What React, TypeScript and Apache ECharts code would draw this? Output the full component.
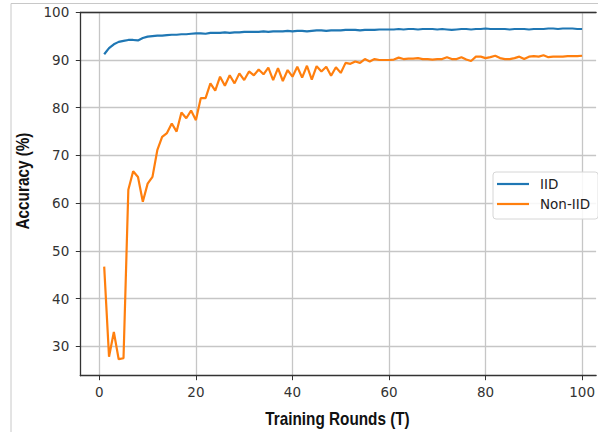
import React, { useEffect, useRef } from "react";
import * as echarts from "echarts";

const rounds: number[] = Array.from({ length: 100 }, (_, i) => i + 1);

const iidAcc: number[] = [
  91.2, 92.5, 93.3, 93.8, 94.0, 94.2, 94.2, 94.1, 94.6, 94.9,
  95.0, 95.1, 95.1, 95.2, 95.3, 95.3, 95.4, 95.4, 95.5, 95.6,
  95.6, 95.5, 95.7, 95.7, 95.7, 95.8, 95.7, 95.8, 95.8, 95.9,
  95.9, 95.9, 95.9, 96.0, 95.9, 96.0, 96.0, 96.0, 96.1, 96.0,
  96.1, 96.1, 96.0, 96.1, 96.2, 96.2, 96.1, 96.2, 96.2, 96.2,
  96.3, 96.3, 96.3, 96.2, 96.3, 96.3, 96.3, 96.4, 96.4, 96.4,
  96.4, 96.5, 96.4, 96.5, 96.5, 96.4, 96.5, 96.5, 96.5, 96.4,
  96.5, 96.4, 96.3, 96.4, 96.5, 96.5, 96.4, 96.5, 96.5, 96.6,
  96.5, 96.5, 96.5, 96.5, 96.4, 96.5, 96.5, 96.5, 96.4, 96.5,
  96.5, 96.5, 96.6, 96.6, 96.5, 96.6, 96.6, 96.6, 96.5, 96.5,
];

const nonIidAcc: number[] = [
  46.7, 27.8, 33.0, 27.3, 27.5, 62.8, 66.7, 65.5, 60.3, 64.1,
  65.5, 71.1, 73.9, 74.7, 76.7, 75.0, 79.0, 77.8, 79.4, 77.4,
  82.0, 82.0, 85.1, 83.6, 86.5, 84.6, 86.8, 85.1, 87.2, 85.8,
  87.6, 86.8, 88.0, 87.0, 88.4, 85.8, 88.3, 85.6, 87.9, 86.5,
  88.6, 86.3, 88.8, 85.9, 88.7, 87.6, 88.6, 86.7, 88.5, 87.3,
  89.4, 89.2, 89.7, 89.4, 90.2, 89.7, 90.2, 90.0, 90.0, 90.0,
  90.1, 90.5, 90.2, 90.3, 90.3, 90.4, 90.2, 90.2, 90.1, 90.2,
  90.2, 90.6, 90.2, 90.2, 90.6, 90.1, 89.8, 90.7, 90.7, 90.4,
  90.6, 90.9, 90.4, 90.2, 90.2, 90.4, 90.7, 90.2, 90.7, 90.8,
  90.7, 91.0, 90.6, 90.7, 90.7, 90.7, 90.8, 90.8, 90.8, 90.9,
];

const xTicks: number[] = [0, 20, 40, 60, 80, 100];
const yTicks: number[] = [30, 40, 50, 60, 70, 80, 90, 100];
const seriesNames: string[] = ["IID", "Non-IID"];
const seriesColors: string[] = ["#1f77b4", "#ff7f0e"];
const xTitle = "Training Rounds (T)";
const yTitle = "Accuracy (%)";

const tickFont = "'DejaVu Sans', sans-serif";
const titleFont = "'Liberation Sans', Arial, sans-serif";
const spine = "#333333";
const gridColor = "#c6c6c6";

export default function App() {
  const ref = useRef<HTMLDivElement>(null);
  useEffect(() => {
    if (!ref.current) return;
    const chart = echarts.init(ref.current, undefined, { renderer: "svg" });
    const toPairs = (ys: number[]) => rounds.map((r, i) => [r, ys[i]]);
    chart.setOption({
      animation: false,
      backgroundColor: "#ffffff",
      grid: { left: 80.3, top: 12.3, right: 0, bottom: 56.3, containLabel: false },
      xAxis: [
        {
          type: "value",
          min: -3.95,
          max: 102.9,
          axisLine: { show: true, onZero: false, lineStyle: { color: spine, width: 1.3 } },
          axisTick: { show: true, length: 4.5, customValues: xTicks, lineStyle: { color: spine, width: 1 } },
          axisLabel: { customValues: xTicks, margin: 9, color: "#333", fontSize: 13.5, fontFamily: tickFont },
          splitLine: { show: true, lineStyle: { color: gridColor, width: 1.3 } },
        },
        {
          type: "value",
          position: "top",
          min: -3.95,
          max: 102.9,
          axisLine: { show: true, onZero: false, lineStyle: { color: spine, width: 1.3 } },
          axisTick: { show: false },
          axisLabel: { show: false },
          splitLine: { show: false },
        },
      ],
      yAxis: {
        type: "value",
        min: 23.84,
        max: 100,
        axisLine: { show: true, onZero: false, lineStyle: { color: spine, width: 1.3 } },
        axisTick: { show: true, length: 4.5, customValues: yTicks, lineStyle: { color: spine, width: 1 } },
        axisLabel: { customValues: yTicks, margin: 11, color: "#333", fontSize: 13.5, fontFamily: tickFont },
        splitLine: { show: true, lineStyle: { color: gridColor, width: 1.3 } },
      },
      legend: {
        orient: "vertical",
        left: 493,
        top: 172,
        data: seriesNames.map((n) => ({ name: n, icon: "rect" })),
        itemWidth: 32,
        itemHeight: 2.2,
        itemGap: 4,
        padding: [4, 8, 7, 4],
        backgroundColor: "rgba(255,255,255,0.85)",
        borderColor: "#d6d6d6",
        borderWidth: 1,
        borderRadius: 3,
        textStyle: { color: "#222", fontSize: 13.5, fontFamily: tickFont, lineHeight: 16, padding: [0, 0, 0, 6] },
      },
      series: seriesNames.map((n, k) => ({
        name: n,
        type: "line",
        data: toPairs(k === 0 ? iidAcc : nonIidAcc),
        symbol: "none",
        showSymbol: false,
        lineStyle: { color: seriesColors[k], width: 2.2 },
        itemStyle: { color: seriesColors[k] },
      })),
      graphic: [
        { type: "line", shape: { x1: 11, y1: 3.5, x2: 598, y2: 3.5 }, style: { stroke: "#c8c8c8", lineWidth: 1 }, silent: true },
        { type: "line", shape: { x1: 11, y1: 3.5, x2: 11, y2: 432 }, style: { stroke: "#c8c8c8", lineWidth: 1 }, silent: true },
        {
          type: "text",
          x: 337.5,
          y: 419,
          scaleX: 0.85,
          style: { text: xTitle, align: "center", verticalAlign: "middle", fontSize: 18, fontWeight: "bold", fontFamily: titleFont, fill: "#111" },
        },
        {
          type: "text",
          x: 23,
          y: 181,
          rotation: Math.PI / 2,
          scaleX: 0.85,
          style: { text: yTitle, align: "center", verticalAlign: "middle", fontSize: 18, fontWeight: "bold", fontFamily: titleFont, fill: "#111" },
        },
      ],
    });
    return () => chart.dispose();
  }, []);
  return <div ref={ref} style={{ position: "fixed", left: 0, top: 0, width: 598, height: 432 }} />;
}
